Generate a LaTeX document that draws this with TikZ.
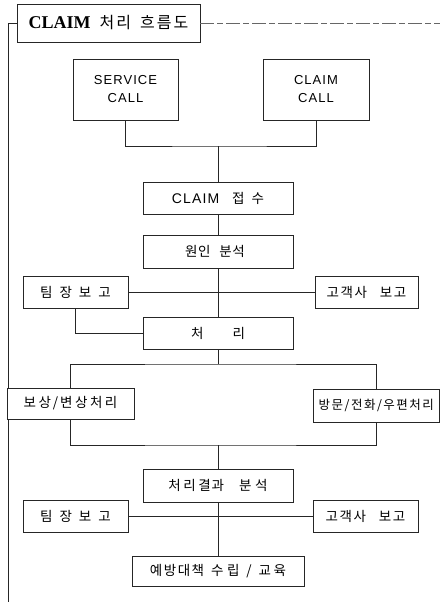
\documentclass[tikz,border=0pt]{standalone}
\usepackage{fontspec}
\setmainfont{Liberation Sans}
\newfontfamily\ko{Noto Sans CJK KR}
\newfontfamily\lat{Liberation Sans}[LetterSpace=8]
\newfontfamily\tserif{Liberation Serif}
\begin{document}
\begin{tikzpicture}[x=1pt,y=-1pt]
\tikzset{
  box/.style={draw=black!85, line width=0.7pt, inner sep=0pt, align=center, fill=white},
  link/.style={draw=black!85, line width=0.7pt},
  kt/.style={font=\ko\fontsize{13.5}{16}\selectfont},
  lt/.style={font=\lat\fontsize{13}{18}\selectfont}
}
\useasboundingbox (0,0) rectangle (440,608);

% title and frame lines
\node[box, minimum width=183pt, minimum height=38pt] (title) at (108.5,23)
  {{\tserif\bfseries\fontsize{18}{20}\selectfont CLAIM}\hspace{9pt}{\ko\fontsize{16}{18}\selectfont 처\hspace{2pt}리\hspace{9pt}흐\hspace{2pt}름\hspace{2pt}도}};
\coordinate (tr) at (440,23);
\coordinate (lb) at (8,602);
\draw[link, draw=black!60, dash pattern=on 14pt off 3pt on 6pt off 3pt] (title.east) -- (tr);
\draw[link] (title.west) -| (lb);

% calls
\node[box, lt, minimum width=105pt, minimum height=61pt] (svc) at (125.5,89.5) {SERVICE\\CALL};
\node[box, lt, minimum width=106pt, minimum height=61pt] (cc) at (316,89.5) {CLAIM\\CALL};
\coordinate (j1) at (218,146);

% main chain
\node[box, kt, minimum width=150pt, minimum height=32pt] (recv) at (218,198)
  {{\lat\fontsize{14}{16}\selectfont CLAIM}\hspace{13pt}접\hspace{7pt}수};
\node[box, kt, minimum width=150pt, minimum height=33pt] (cause) at (218,251.5)
  {원\hspace{0.5pt}인\hspace{9pt}분\hspace{0.5pt}석\hspace{6pt}};
\node[box, kt, minimum width=105pt, minimum height=32pt] (tl1) at (75.5,292)
  {팀\hspace{7pt}장\hspace{7pt}보\hspace{7pt}고};
\node[box, kt, minimum width=103pt, minimum height=32pt] (cr1) at (366.5,292)
  {고\hspace{1.5pt}객\hspace{1.5pt}사\hspace{13pt}보\hspace{1.5pt}고};
\node[box, kt, minimum width=150pt, minimum height=32pt] (proc) at (218,333)
  {처\hspace{29pt}리};
\coordinate (j2) at (218,364);
\node[box, kt, minimum width=127pt, minimum height=31pt] (comp) at (70.5,403.5)
  {보\hspace{2.5pt}상\hspace{2pt}/\hspace{2pt}변\hspace{2.5pt}상\hspace{2.5pt}처\hspace{2.5pt}리};
\node[box, kt, font=\ko\fontsize{12.5}{15}\selectfont, minimum width=126.5pt, minimum height=33pt] (visit) at (376.25,405.5)
  {방\hspace{1.5pt}문\hspace{1.5pt}/\hspace{1.5pt}전\hspace{1.5pt}화\hspace{1.5pt}/\hspace{1.5pt}우\hspace{1.5pt}편\hspace{1.5pt}처\hspace{1.5pt}리};
\coordinate (j3) at (218,445);
\node[box, kt, minimum width=150pt, minimum height=33pt] (result) at (218,485.5)
  {처\hspace{2.5pt}리\hspace{2.5pt}결\hspace{1pt}과\hspace{15pt}분\hspace{3.5pt}석};
\node[box, kt, minimum width=105pt, minimum height=32pt] (tl2) at (75.5,516)
  {팀\hspace{7pt}장\hspace{7pt}보\hspace{7pt}고};
\node[box, kt, minimum width=105pt, minimum height=32pt] (cr2) at (365.5,516)
  {고\hspace{1.5pt}객\hspace{1.5pt}사\hspace{13pt}보\hspace{1.5pt}고};
\node[box, kt, minimum width=172pt, minimum height=30pt] (prev) at (218,571)
  {예\hspace{1.5pt}방\hspace{1.5pt}대\hspace{1.5pt}책\hspace{7pt}수\hspace{3.5pt}립\hspace{7pt}/\hspace{7pt}교\hspace{2.5pt}육};

% connectors
\draw[link] (svc.south) |- (j1) -| (cc.south);
\draw[link] (j1) -- (recv.north);
\draw[link] (recv.south) -- (cause.north);
\draw[link] (cause.south) -- (proc.north);
\draw[link] (tl1.east) -- (cr1.west);
\draw[link] (tl1.south) |- (proc.west);
\draw[link] (proc.south) -- (j2);
\draw[link] (comp.north) |- (j2) -| (visit.north);
\draw[link] (comp.south) |- (j3) -| (visit.south);
\draw[link] (j3) -- (result.north);
\draw[link] (result.south) -- (prev.north);
\draw[link] (tl2.east) -- (cr2.west);
\end{tikzpicture}
\end{document}
